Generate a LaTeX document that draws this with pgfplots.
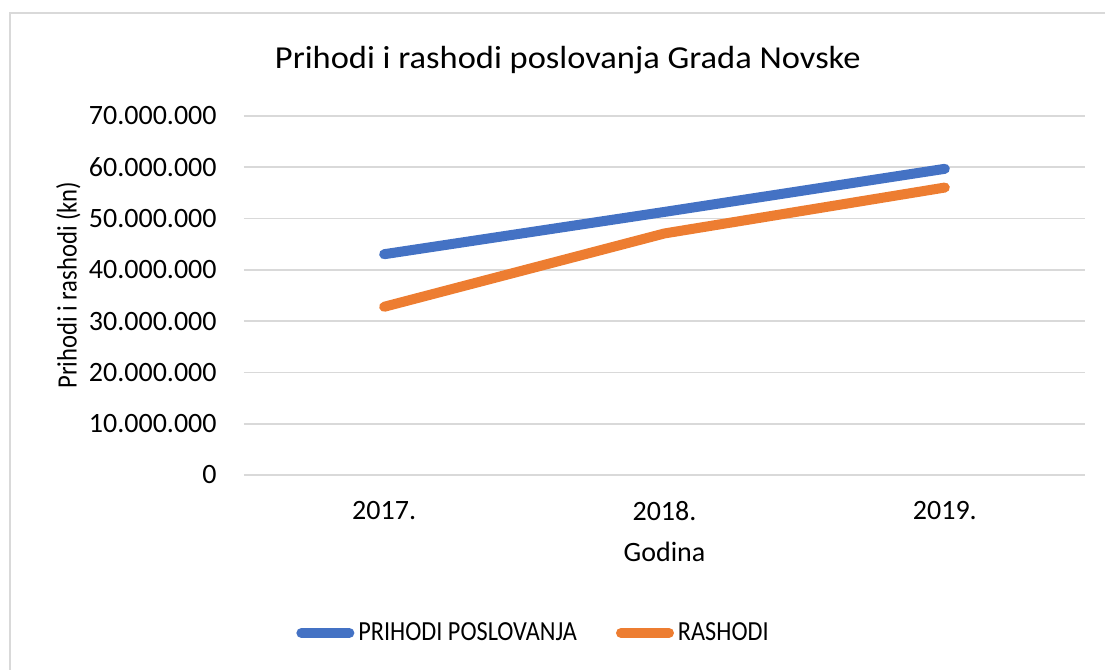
\documentclass[border=0pt]{standalone}
\usepackage{pgfplots}
\pgfplotsset{compat=1.18}
\usepackage{fontspec}
\setmainfont{Carlito}
\newfontfamily\titlefont[FakeStretch=1.077]{Carlito}
\newfontfamily\condfont[FakeStretch=0.88]{Carlito}
\definecolor{cblue}{HTML}{4472C4}
\definecolor{corange}{HTML}{ED7D31}
\definecolor{cgrid}{HTML}{D9D9D9}
\begin{document}
\begin{tikzpicture}
\path[use as bounding box] (0pt,0pt) rectangle (552.5pt,335pt);
\draw[cgrid, line width=1pt] (5pt,0pt) -- (5pt,328.5pt) -- (552.5pt,328.5pt);
\begin{axis}[
  at={(122pt,97.5pt)}, anchor=south west,
  scale only axis, width=420.5pt, height=179.5pt,
  xmin=-0.5, xmax=2.5, ymin=0, ymax=70000000,
  scaled y ticks=false,
  xtick={0,1,2}, xticklabels={2017.,2018.,2019.},
  ytick={0,10000000,20000000,30000000,40000000,50000000,60000000,70000000},
  yticklabels={0,10.000.000,20.000.000,30.000.000,40.000.000,50.000.000,60.000.000,70.000.000},
  /pgf/number format/assume math mode=true,
  axis line style={draw=none},
  major tick length=0pt,
  ymajorgrids, grid style={cgrid, line width=0.9pt},
  tick label style={font=\fontsize{14}{16}\selectfont, text=black},
  yticklabel style={inner sep=0pt, xshift=-13.5pt},
  xticklabel style={inner sep=0pt, yshift=-13pt},
  title={Prihodi i rashodi poslovanja Grada Novske},
  every axis title/.style={at={(axis description cs:0.385,1.133)}, anchor=base, font=\titlefont\fontsize{16}{19}\selectfont},
  ylabel={Prihodi i rashodi (kn)},
  every axis y label/.style={font=\condfont\fontsize{14}{16}\selectfont, at={(axis description cs:-0.209,0.529)}, anchor=center, rotate=90},
  xlabel={Godina},
  every axis x label/.style={font=\fontsize{14}{16}\selectfont, at={(axis description cs:0.5,-0.214)}, anchor=center},
  legend columns=2,
  legend style={at={(axis description cs:0.0618,-0.44)}, anchor=west, draw=none, fill=none,
    font=\condfont\fontsize{13.8}{16}\selectfont, inner sep=0pt,
    nodes={inner sep=0pt},
    /tikz/every odd column/.append style={column sep=2pt},
    /tikz/every even column/.append style={column sep=19.5pt}},
  legend image code/.code={\draw[#1, line cap=round] (2.5pt,0pt) -- (26.5pt,0pt);},
  clip=false,
]
\addplot[cblue, line width=5pt, line cap=round, line join=round] coordinates {(0,43050000) (1,51300000) (2,59700000)};
\addlegendentry{PRIHODI POSLOVANJA}
\addplot[corange, line width=5pt, line cap=round, line join=round] coordinates {(0,32800000) (1,47100000) (2,56050000)};
\addlegendentry{RASHODI}
\end{axis}
\end{tikzpicture}
\end{document}
